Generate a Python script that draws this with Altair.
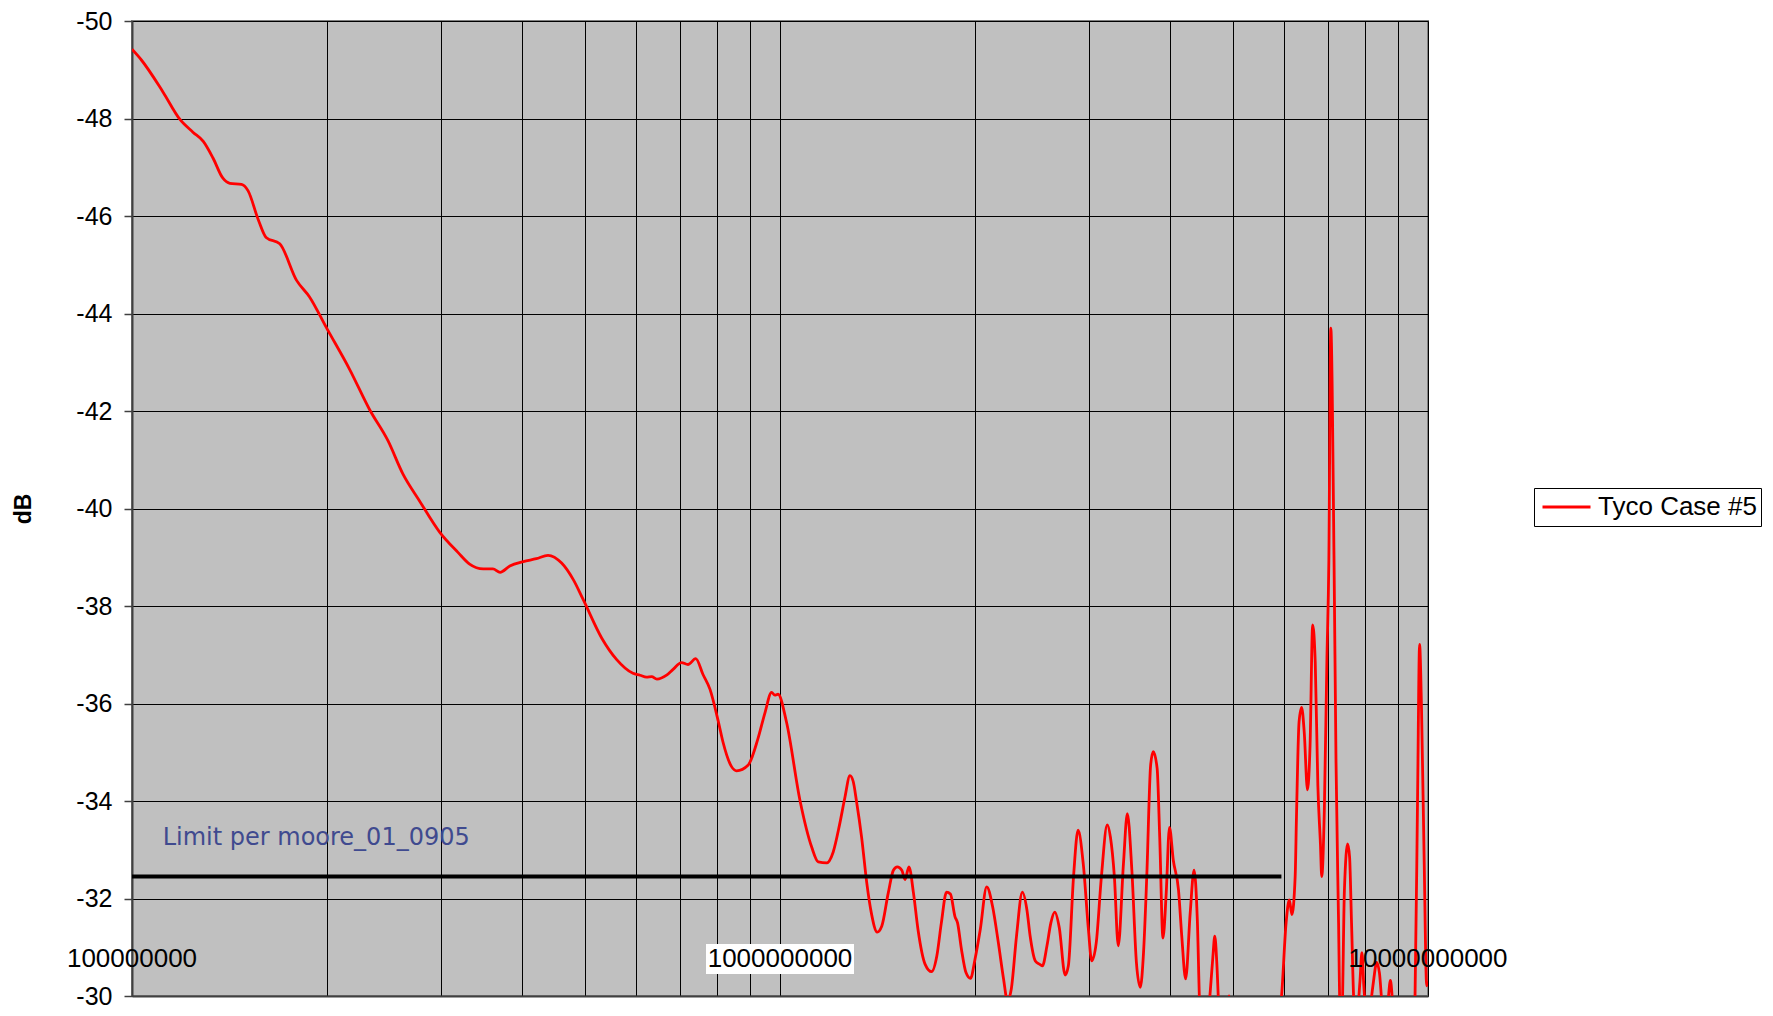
import altair as alt
import pandas as pd

# ---- data ----
series_name = "Tyco Case #5"

log_freq = [
    8.000, 8.0145, 8.048, 8.074, 8.094, 8.110, 8.125, 8.140, 8.151, 8.169,
    8.179, 8.195, 8.207, 8.228, 8.254, 8.274, 8.300, 8.336, 8.367, 8.395,
    8.418, 8.444, 8.475, 8.503, 8.521, 8.542, 8.557, 8.568, 8.583, 8.604,
    8.624, 8.642, 8.663, 8.681, 8.696,
    8.725, 8.748, 8.773, 8.784, 8.794, 8.802, 8.810, 8.825, 8.835, 8.848,
    8.858, 8.870, 8.881, 8.892, 8.905, 8.912, 8.925, 8.933, 8.951, 8.966,
    8.977, 8.987, 8.992, 8.997, 9.010, 9.031, 9.049, 9.059,
    9.072, 9.082, 9.092, 9.100, 9.108, 9.113, 9.118, 9.126, 9.134, 9.141,
    9.150, 9.157, 9.167, 9.175, 9.181, 9.188, 9.193, 9.199, 9.206, 9.213,
    9.224, 9.234, 9.242, 9.249, 9.257, 9.263, 9.270, 9.274, 9.280, 9.287,
    9.294, 9.301, 9.309, 9.319, 9.328, 9.337, 9.345, 9.351, 9.357, 9.365,
    9.374, 9.381, 9.386, 9.394, 9.401, 9.405, 9.412, 9.418, 9.424, 9.431,
    9.440, 9.445, 9.453, 9.460, 9.468, 9.476, 9.481, 9.488, 9.496, 9.505,
    9.510, 9.516, 9.522, 9.530, 9.536, 9.543, 9.550, 9.556, 9.561, 9.566,
    9.572, 9.576, 9.582, 9.586, 9.591, 9.596, 9.601, 9.607, 9.615, 9.620,
    9.626, 9.633, 9.639, 9.644, 9.648, 9.653, 9.659, 9.664, 9.668, 9.671,
    9.674, 9.677, 9.682, 9.690, 9.693, 9.697, 9.720, 9.745, 9.752, 9.757,
    9.768, 9.774, 9.781, 9.786, 9.790, 9.795, 9.797, 9.801, 9.805, 9.809,
    9.814, 9.818, 9.822, 9.826, 9.830, 9.834, 9.836, 9.840, 9.844, 9.847,
    9.850, 9.855, 9.858, 9.862, 9.864, 9.867, 9.871, 9.876, 9.879, 9.882,
    9.886, 9.890, 9.895, 9.898, 9.901, 9.905, 9.911, 9.915, 9.921, 9.925,
    9.930, 9.937, 9.942, 9.946, 9.960, 9.978, 9.980, 9.984, 9.987, 9.990,
    9.994, 9.998, 10.000,
]

db_values = [
    -49.42, -49.20, -48.54, -47.98, -47.72, -47.53, -47.19, -46.78, -46.67, -46.65,
    -46.52, -45.92, -45.56, -45.43, -44.68, -44.34, -43.71, -42.85, -42.02, -41.39,
    -40.71, -40.15, -39.51, -39.10, -38.86, -38.76, -38.76, -38.69, -38.82, -38.91,
    -38.97, -39.04, -38.88, -38.54, -38.14,
    -37.34, -36.90, -36.62, -36.58, -36.54, -36.55, -36.50, -36.58, -36.70, -36.84,
    -36.80, -36.92, -36.60, -36.29, -35.62, -35.21, -34.71, -34.62, -34.74, -35.28,
    -35.82, -36.23, -36.17, -36.19, -35.62, -34.00, -33.05, -32.75,
    -32.73, -32.95, -33.52, -34.06, -34.52, -34.40, -34.00, -33.25, -32.31, -31.70,
    -31.31, -31.43, -32.11, -32.58, -32.65, -32.58, -32.39, -32.65, -32.11, -31.36,
    -30.65, -30.50, -30.82, -31.50, -32.13, -32.09, -31.63, -31.50, -30.96, -30.48,
    -30.36, -30.76, -31.36, -32.24, -31.84, -31.09, -30.35, -29.90, -30.15, -31.23,
    -32.13, -31.77, -31.23, -30.72, -30.65, -30.62, -31.03, -31.50, -31.72, -31.40,
    -30.43, -30.62, -32.45, -33.40, -32.71, -31.36, -30.72, -31.09, -32.45, -33.51,
    -33.25, -32.45, -31.03, -32.71, -33.74, -32.58, -30.69, -30.18, -30.89, -32.45,
    -34.74, -35.01, -34.67, -33.25, -31.19, -32.11, -33.46, -32.78, -32.17, -31.23,
    -30.35, -31.70, -32.58, -31.57, -29.70, -29.20, -29.40, -30.10, -30.80, -31.23,
    -30.70, -29.80, -29.20, -29.70, -30.00, -29.60, -29.00, -29.40, -29.95, -29.70,
    -29.40, -30.00, -31.50, -31.97, -31.67, -32.45, -33.66, -35.62, -35.92, -35.41,
    -34.23, -35.14, -37.61, -36.84, -34.33, -33.12, -32.45, -33.80, -36.90, -38.93,
    -43.70, -38.93, -34.86, -31.50, -29.80, -29.50, -32.17, -33.12, -32.85, -31.50,
    -29.80, -29.60, -30.30, -30.89, -30.20, -29.60, -29.80, -30.21, -30.69, -30.48,
    -29.80, -29.80, -30.32, -29.80, -29.20, -29.50, -30.00, -34.20, -37.21, -35.89,
    -32.85, -30.21, -30.30,
]

limit_freq = [1e8, 5.94e9]
limit_db = [-32.45, -32.45]
limit_label = "Limit per moore_01_0905"
limit_label_freq = 1.115e8
limit_label_db = -33.25

x_label_values = [1e8, 1e9, 1e10]
x_label_texts = ["100000000", "1000000000", "10000000000"]
x_label_db = -30.76

x_grid_values = [m * 10 ** e for e in (8, 9) for m in range(1, 10)] + [1e10]
y_tick_values = list(range(-50, -29, 2))

# ---- tables ----
curve = pd.DataFrame({
    "freq": [10 ** v for v in log_freq],
    "db": db_values,
    "series": series_name,
})
limit_df = pd.DataFrame({"freq": [limit_freq[0]], "freq2": [limit_freq[1]], "db": [limit_db[0]]})
limit_text_df = pd.DataFrame({"freq": [limit_label_freq], "db": [limit_label_db], "label": [limit_label]})
xlab_df = pd.DataFrame({"freq": x_label_values, "db": [x_label_db] * 3, "label": x_label_texts})
xbox_df = xlab_df.iloc[[1]]

PLOT_W, PLOT_H = 1296, 975
PAD_TOP = 13

x_scale = alt.Scale(type="log", domain=[1e8, 1e10], nice=False)
y_scale = alt.Scale(domain=[-50, -30], reverse=True, nice=False, zero=False)

x_axis = alt.Axis(
    values=x_grid_values, labels=False, ticks=False, grid=True,
    gridColor="#000000", gridWidth=1, gridOpacity=1,
    domainColor="#404040", domainWidth=2, title=None)
y_axis = alt.Axis(
    values=y_tick_values, grid=True, gridColor="#000000", gridWidth=1, gridOpacity=1,
    tickSize=8, tickColor="#404040", tickWidth=1.5,
    domainColor="#404040", domainWidth=2,
    labelExpr="datum.value + ''", labelFont="Liberation Sans", labelFontSize=25,
    labelColor="#000000", labelPadding=12,
    title="dB", titleFont="Liberation Sans", titleFontSize=23, titleFontWeight="bold",
    titleColor="#000000", titleAngle=270, titleX=-109, titleY=PLOT_H / 2,
    titleAlign="center", titleBaseline="middle")

X = alt.X("freq:Q", scale=x_scale, axis=x_axis)
Y = alt.Y("db:Q", scale=y_scale, axis=y_axis)

line = alt.Chart(curve).mark_line(
    strokeWidth=2.8, clip=True, interpolate="monotone"
).encode(
    x=X, y=Y,
    color=alt.Color("series:N", scale=alt.Scale(domain=[series_name], range=["#FF0000"]),
                    legend=alt.Legend(
                        title=None, orient="none", legendX=1402, legendY=488 - 8 - PAD_TOP,
                        symbolType="stroke", symbolSize=2304, symbolStrokeWidth=3,
                        symbolOffset=3,
                        labelFont="Liberation Sans", labelFontSize=26, labelColor="#000000",
                        clipHeight=30,
                        labelOffset=6, strokeColor="#000000", fillColor="#FFFFFF",
                        padding=4)),
)

limit_rule = alt.Chart(limit_df).mark_rule(color="#000000", strokeWidth=4).encode(
    x=X, x2="freq2:Q", y=Y,
)

limit_text = alt.Chart(limit_text_df).mark_text(
    align="left", baseline="middle", font="DejaVu Sans", fontSize=24, color="#3F4A8F"
).encode(x=X, y=Y, text="label:N")

xbox = alt.Chart(xbox_df).mark_rect(color="#FFFFFF", width=148, height=30).encode(x=X, y=Y)

xlabels = alt.Chart(xlab_df).mark_text(
    align="center", baseline="middle", font="Liberation Sans", fontSize=26, color="#000000"
).encode(x=X, y=Y, text="label:N")

chart = alt.layer(line, limit_rule, limit_text, xbox, xlabels).properties(
    width=PLOT_W, height=PLOT_H,
    autosize=alt.AutoSizeParams(type="none"),
    padding={"left": 124, "top": PAD_TOP, "right": 336, "bottom": 12},
    background="#FFFFFF",
).configure_view(
    fill="#C0C0C0", stroke="#808080", strokeWidth=2
)

chart.save("out.html", embed_options={"renderer": "svg", "actions": False})
